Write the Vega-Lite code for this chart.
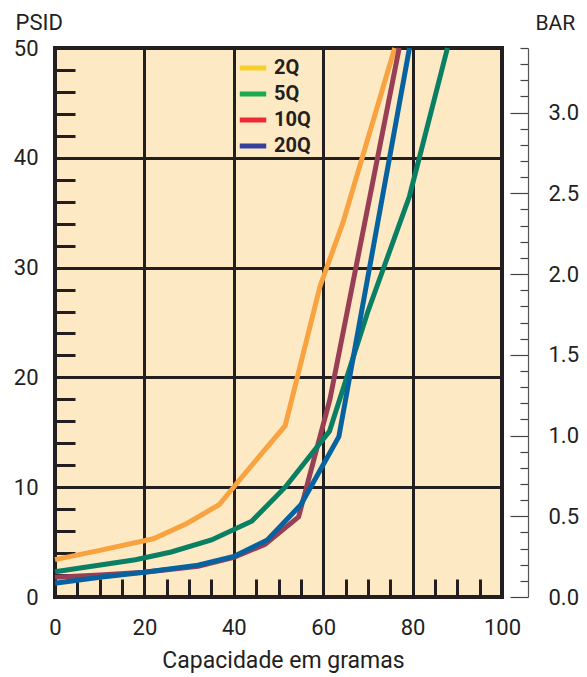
{
  "$schema": "https://vega.github.io/schema/vega-lite/v6.json",
  "width": 447,
  "height": 549,
  "autosize": "none",
  "padding": {"left": 55, "top": 48, "right": 85, "bottom": 80},
  "background": "white",
  "config": {
    "view": {"fill": "#FDEAC4", "stroke": "#231F20", "strokeWidth": 4},
    "font": "Roboto",
    "legend": {
      "orient": "none", "legendX": 182, "legendY": 4, "padding": 0,
      "symbolType": "stroke", "symbolSize": 700, "symbolStrokeWidth": 5, "symbolOpacity": 1,
      "labelFontSize": 20, "labelFontWeight": "bold", "labelColor": "#231F20", "labelFont": "Roboto",
      "rowPadding": -1, "labelOffset": 5
    }
  },
  "datasets": {
    "curves": [
      {"series": "2Q", "x": 0, "y": 3.4}, {"series": "2Q", "x": 10, "y": 4.25}, {"series": "2Q", "x": 22, "y": 5.3},
      {"series": "2Q", "x": 29.5, "y": 6.7}, {"series": "2Q", "x": 36.7, "y": 8.4}, {"series": "2Q", "x": 43, "y": 11.5},
      {"series": "2Q", "x": 51.5, "y": 15.6}, {"series": "2Q", "x": 59.3, "y": 28.3}, {"series": "2Q", "x": 64.5, "y": 34.2},
      {"series": "2Q", "x": 76, "y": 50},
      {"series": "10Q", "x": 0, "y": 1.8}, {"series": "10Q", "x": 10, "y": 2.0}, {"series": "10Q", "x": 20, "y": 2.25},
      {"series": "10Q", "x": 32, "y": 2.8}, {"series": "10Q", "x": 40, "y": 3.6}, {"series": "10Q", "x": 47, "y": 4.8},
      {"series": "10Q", "x": 54.5, "y": 7.3}, {"series": "10Q", "x": 61.5, "y": 18}, {"series": "10Q", "x": 77, "y": 50},
      {"series": "5Q", "x": 0, "y": 2.3}, {"series": "5Q", "x": 18, "y": 3.4}, {"series": "5Q", "x": 26, "y": 4.1},
      {"series": "5Q", "x": 35, "y": 5.2}, {"series": "5Q", "x": 44, "y": 6.9}, {"series": "5Q", "x": 51.5, "y": 10},
      {"series": "5Q", "x": 61.4, "y": 15.1}, {"series": "5Q", "x": 70, "y": 26}, {"series": "5Q", "x": 79.3, "y": 36.5},
      {"series": "5Q", "x": 87.8, "y": 50},
      {"series": "20Q", "x": 0, "y": 1.25}, {"series": "20Q", "x": 10, "y": 1.8}, {"series": "20Q", "x": 20, "y": 2.25},
      {"series": "20Q", "x": 32, "y": 2.9}, {"series": "20Q", "x": 40, "y": 3.7}, {"series": "20Q", "x": 47.5, "y": 5.2},
      {"series": "20Q", "x": 55, "y": 8.4}, {"series": "20Q", "x": 63.5, "y": 14.6}, {"series": "20Q", "x": 79.3, "y": 50}
    ],
    "bar": [{"bar": 0}, {"bar": 3.4}]
  },
  "layer": [
    {
      "data": {"name": "curves"},
      "encoding": {
        "x": {
          "field": "x", "type": "quantitative",
          "scale": {"domain": [0, 100], "nice": false, "zero": false},
          "axis": {
            "values": [0,5,10,15,20,25,30,35,40,45,50,55,60,65,70,75,80,85,90,95,100],
            "labelExpr": "datum.value % 20 === 0 ? datum.label : ''",
            "tickSize": -18, "tickWidth": 3, "tickColor": "#231F20",
            "grid": true,
            "gridColor": {"condition": {"test": "datum.value % 20 === 0", "value": "#231F20"}, "value": "transparent"},
            "gridWidth": 3, "domain": false,
            "labelPadding": 38, "labelFontSize": 22, "labelFontWeight": "normal", "labelColor": "#231F20", "labelFont": "Roboto",
            "labelFlush": false,
            "title": "Capacidade em gramas", "titleFontSize": 23, "titleFontWeight": "normal", "titleColor": "#231F20",
            "titleFont": "Roboto", "titleX": 228, "titleY": 70, "titleBaseline": "alphabetic", "titleAlign": "center"
          }
        },
        "y": {
          "field": "y", "type": "quantitative",
          "scale": {"domain": [0, 50], "nice": false},
          "axis": {
            "orient": "left",
            "values": [0,2,4,6,8,10,12,14,16,18,20,22,24,26,28,30,32,34,36,38,40,42,44,46,48,50],
            "labelExpr": "datum.value % 10 === 0 ? datum.label : ''",
            "tickSize": {"condition": {"test": "datum.value % 10 === 0", "value": -38}, "value": -20},
            "tickWidth": 3, "tickColor": "#231F20",
            "grid": true,
            "gridColor": {"condition": {"test": "datum.value % 10 === 0", "value": "#231F20"}, "value": "transparent"},
            "gridWidth": 3, "domain": false,
            "labelPadding": 55, "labelFontSize": 22, "labelFontWeight": "normal", "labelColor": "#231F20", "labelFont": "Roboto",
            "labelFlush": false,
            "title": "PSID", "titleAngle": 0, "titleAlign": "left", "titleBaseline": "alphabetic",
            "titleX": -40, "titleY": -19, "titleFontSize": 22, "titleFontWeight": "normal", "titleColor": "#231F20", "titleFont": "Roboto"
          }
        }
      },
      "layer": [
        {
          "mark": {"type": "line", "strokeWidth": 5, "opacity": 0},
          "encoding": {
            "color": {
              "field": "series", "type": "nominal",
              "scale": {"domain": ["2Q", "5Q", "10Q", "20Q"], "range": ["#F6D02A", "#1AAB4F", "#EC2A35", "#34409A"]},
              "legend": {"title": null}
            }
          }
        },
        {
          "mark": {"type": "line", "strokeWidth": 5},
          "encoding": {
            "color": {
              "field": "series", "type": "nominal",
              "scale": {"domain": ["2Q", "5Q", "10Q", "20Q"], "range": ["#F9A240", "#0B7F64", "#983F55", "#0763A0"]},
              "legend": null
            }
          }
        }
      ],
      "resolve": {"scale": {"color": "independent"}}
    },
    {
      "data": {"name": "bar"},
      "mark": {"type": "rule", "opacity": 0},
      "encoding": {
        "y": {
          "field": "bar", "type": "quantitative",
          "scale": {"domain": [0, 3.4], "nice": false},
          "axis": {
            "orient": "right", "offset": 26,
            "values": [0,0.1,0.2,0.3,0.4,0.5,0.6,0.7,0.8,0.9,1,1.1,1.2,1.3,1.4,1.5,1.6,1.7,1.8,1.9,2,2.1,2.2,2.3,2.4,2.5,2.6,2.7,2.8,2.9,3,3.1,3.2,3.3,3.4],
            "labelExpr": "round(datum.value * 10) % 5 === 0 ? format(datum.value, '.1f') : ''",
            "tickSize": {"condition": {"test": "round(datum.value * 10) % 5 === 0", "value": -18}, "value": -8},
            "tickWidth": 1.2, "tickColor": "#444444",
            "domain": true, "domainColor": "#555555", "domainWidth": 1.2,
            "grid": false,
            "labelPadding": 38, "labelFontSize": 22, "labelFontWeight": "normal", "labelColor": "#231F20", "labelFont": "Roboto",
            "labelFlush": false,
            "title": "BAR", "titleAngle": 0, "titleAlign": "left", "titleBaseline": "alphabetic",
            "titleX": 7, "titleY": -19, "titleFontSize": 21, "titleFontWeight": "normal", "titleColor": "#231F20", "titleFont": "Roboto"
          }
        }
      }
    }
  ],
  "resolve": {"scale": {"y": "independent"}}
}
